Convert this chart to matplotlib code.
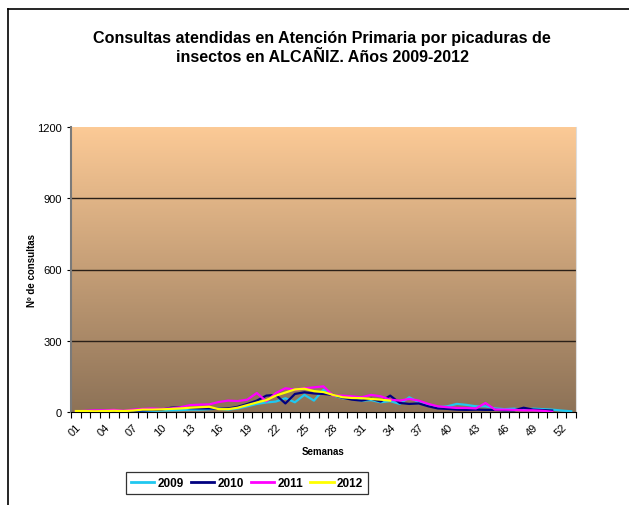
import numpy as np
import matplotlib.pyplot as plt
from matplotlib.lines import Line2D
from matplotlib.colors import LinearSegmentedColormap

plt.rcParams['font.family'] = ['Liberation Sans', 'DejaVu Sans']

# semanas 1..53
semanas = np.arange(1, 54)
etiquetas = ['%02d' % s for s in semanas]

c2009 = [2, 2, 3, 3, 4, 3, 2, 3, 5, 6, 7, 8, 10, 10, 12, 14, 10, 15, 24, 34,
         40, 44, 58, 41, 72, 48, 94, 70, 58, 55, 48, 50, 41, 46, 34, 62, 41, 30,
         20, 24, 34, 30, 24, 24, 15, 12, 14, 9, 14, 12, 10, 6, 3]
c2010 = [2, 1, 3, 2, 4, 3, 5, 6, 8, 10, 18, 20, 16, 15, 15, 13, 15, 22, 34, 48,
         69, 72, 36, 76, 83, 78, 76, 72, 60, 52, 48, 56, 44, 69, 38, 34, 36, 24,
         15, 13, 10, 9, 10, 9, 9, 7, 7, 18, 10, 8, 6, None, None]
c2011 = [3, 5, 7, 7, 9, 5, 10, 13, 15, 13, 15, 20, 29, 31, 32, 42, 48, 46, 52, 80,
         45, 80, 100, 94, 100, 104, 108, 69, 69, 66, 62, 72, 66, 52, 48, 55, 48,
         34, 24, 20, 17, 17, 15, 38, 10, 10, 9, 7, 7, 5, 1, None, None]
c2012 = [4, 4, 3, 4, 5, 4, 6, 10, 10, 11, 13, 15, 18, 20, 22, 12, 12, 18, 29, 40,
         50, 69, 82, 95, 98, 88, 84, 72, 62, 59, 58, 55, 52, 48]

series = [('2009', c2009, '#1FC8F0'), ('2010', c2010, '#000080'),
          ('2011', c2011, '#FF00FF'), ('2012', c2012, '#FFFF00')]

fig = plt.figure(figsize=(6.29, 5.06), dpi=100)
ax = fig.add_axes([71/629, 93/506, 505/629, 285/506])

# fondo degradado
cmap = LinearSegmentedColormap.from_list('fondo', ['#8D7257', '#FCCA96'])
grad = np.linspace(0, 1, 256).reshape(-1, 1)
ax.imshow(grad, extent=[0.5, 53.5, 0, 1200], origin='lower', aspect='auto',
          cmap=cmap, zorder=0)

for nombre, vals, col in series:
    y = np.array([np.nan if v is None else v for v in vals], dtype=float)
    ax.plot(semanas[:len(y)], y, color=col, lw=1.6, label=nombre, zorder=3)

ax.set_xlim(0.5, 53.5)
ax.set_ylim(0, 1200)
ax.set_yticks([0, 300, 600, 900, 1200])
ax.tick_params(axis='y', labelsize=8, length=3, width=0.8)
for g in [300, 600, 900]:
    ax.axhline(g, color='#2a2018', lw=1.0, zorder=1)

ax.set_xticks(np.arange(0.5, 54.5, 1), minor=True)
ax.set_xticks(semanas[::3])
ax.set_xticklabels(etiquetas[::3], rotation=45, ha='right', va='top',
                   rotation_mode='anchor', fontsize=8)
ax.tick_params(axis='x', which='major', length=0, pad=7)
ax.tick_params(axis='x', which='minor', length=4, width=0.8, direction='out')

ax.spines['top'].set_visible(False)
ax.spines['right'].set_color('#dddddd')
ax.spines['left'].set_color('#7a7a7a')
ax.spines['left'].set_linewidth(1.5)
ax.spines['bottom'].set_color('black')

ax.set_ylabel('Nº de consultas', fontsize=7, fontweight='bold', labelpad=0)
ax.set_xlabel('Semanas', fontsize=7, fontweight='bold', labelpad=6)

fig.text(0.512, 1 - 48/506, 'Consultas atendidas en Atención Primaria por picaduras de\n'
         'insectos en ALCAÑIZ. Años 2009-2012', ha='center', va='center',
         fontsize=11.6, fontweight='bold', linespacing=1.35)

leg = fig.legend(loc='center', bbox_to_anchor=(247/629, 1 - 484/506), ncol=4,
                 frameon=True, fancybox=False, edgecolor='black',
                 prop={'size': 8.5, 'weight': 'bold'}, handlelength=2.0,
                 handletextpad=0.3, columnspacing=0.55, borderpad=0.4)
leg.get_frame().set_linewidth(0.9)
for h in leg.get_lines():
    h.set_linewidth(2)

# marco del gráfico
fig.add_artist(Line2D([8/629, 8/629], [0, 1 - 10/506], color='black', lw=1.2,
                      transform=fig.transFigure))
fig.add_artist(Line2D([8/629, 1], [1 - 10/506, 1 - 10/506], color='black', lw=1.2,
                      transform=fig.transFigure))

fig.savefig('out.png', dpi=100)
